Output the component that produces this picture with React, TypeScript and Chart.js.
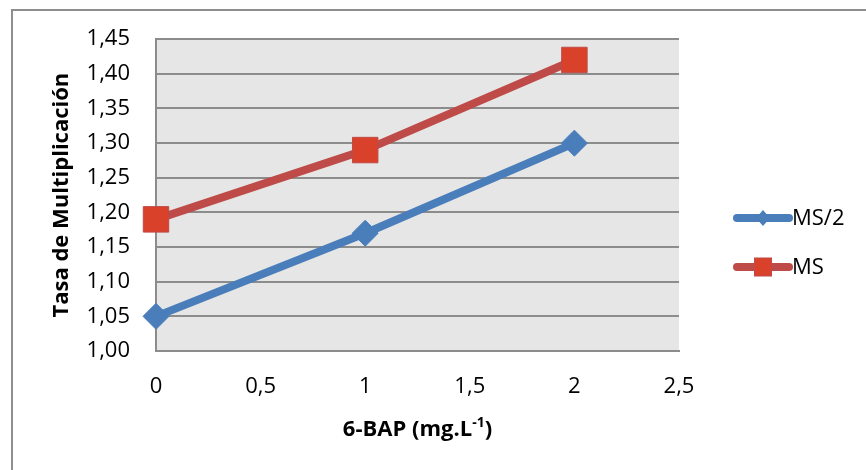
import React, { useEffect, useRef } from "react";
import { Chart, registerables } from "chart.js";

Chart.register(...registerables);

const xValues = [0, 1, 2];
const seriesMS2 = [1.05, 1.17, 1.3];
const seriesMS = [1.19, 1.29, 1.42];
const seriesLabels = ["MS/2", "MS"];
const yTitle = "Tasa de Multiplicación";
const xTitleMain = "6-BAP (mg.L";
const xTitleSup = "-1";
const xTitleEnd = ")";

const FONT = "'Open Sans', 'Liberation Sans', sans-serif";
const BLUE = "#4a7ebb";
const RED_LINE = "#be4b48";
const RED_FILL = "#d9412b";
const GRID = "#8c8c8c";

const fmt = (v: number, digits: number) =>
  (digits === 0 ? String(Number(v.toFixed(1))) : v.toFixed(digits)).replace(".", ",");

export default function App() {
  const ref = useRef<HTMLCanvasElement>(null);

  useEffect(() => {
    if (!ref.current) return;

    const bgPlugin = {
      id: "bgPlugin",
      beforeDraw(chart: any) {
        const { ctx, chartArea } = chart;
        ctx.save();
        ctx.fillStyle = "#ffffff";
        ctx.fillRect(0, 0, chart.width, chart.height);
        // outer frame
        ctx.fillStyle = "#8e8e8e";
        ctx.fillRect(11, 9, chart.width, 2);
        ctx.fillRect(11, 9, 2, chart.height);
        ctx.fillStyle = "#e6e6e6";
        ctx.fillRect(chartArea.left, chartArea.top, chartArea.right - chartArea.left, chartArea.bottom - chartArea.top);
        ctx.restore();
      },
      afterDraw(chart: any) {
        const { ctx, chartArea } = chart;
        ctx.save();
        // x title with superscript
        const mainFont = `bold 22px ${FONT}`;
        const supFont = `bold 14px ${FONT}`;
        ctx.font = mainFont;
        const w1 = ctx.measureText(xTitleMain).width;
        const w3 = ctx.measureText(xTitleEnd).width;
        ctx.font = supFont;
        const w2 = ctx.measureText(xTitleSup).width;
        const total = w1 + w2 + w3;
        const cx = (chartArea.left + chartArea.right) / 2;
        let x = cx - total / 2;
        const y = 430;
        ctx.fillStyle = "#000";
        ctx.textBaseline = "middle";
        ctx.textAlign = "left";
        ctx.font = mainFont;
        ctx.fillText(xTitleMain, x, y);
        x += w1;
        ctx.font = supFont;
        ctx.fillText(xTitleSup, x, y - 7);
        x += w2;
        ctx.font = mainFont;
        ctx.fillText(xTitleEnd, x, y);

        // legend
        const ds = chart.data.datasets;
        const lx0 = chartArea.right + 58;
        const lx1 = chartArea.right + 110;
        const ys = [218, 267];
        ds.forEach((d: any, i: number) => {
          const yy = ys[i];
          ctx.strokeStyle = d.borderColor;
          ctx.lineWidth = 8;
          ctx.lineCap = "round";
          ctx.beginPath();
          ctx.moveTo(lx0, yy);
          ctx.lineTo(lx1, yy);
          ctx.stroke();
          const mx = (lx0 + lx1) / 2;
          ctx.fillStyle = d.pointBackgroundColor;
          ctx.strokeStyle = d.pointBorderColor;
          ctx.lineWidth = 1;
          if (d.pointStyle === "rectRot") {
            ctx.beginPath();
            ctx.moveTo(mx, yy - 8);
            ctx.lineTo(mx + 7, yy);
            ctx.lineTo(mx, yy + 8);
            ctx.lineTo(mx - 7, yy);
            ctx.closePath();
            ctx.fill();
          } else {
            ctx.fillRect(mx - 8.5, yy - 9, 17, 18);
            ctx.strokeRect(mx - 8.5, yy - 9, 17, 18);
          }
          ctx.fillStyle = "#000";
          ctx.font = `22px ${FONT}`;
          ctx.textBaseline = "middle";
          ctx.fillText(d.label, lx1 + 3, yy + 1);
        });
        ctx.restore();
      },
    };

    const chart = new Chart(ref.current, {
      type: "line",
      data: {
        datasets: [
          {
            label: seriesLabels[0],
            data: xValues.map((x, i) => ({ x, y: seriesMS2[i] })),
            borderColor: BLUE,
            backgroundColor: BLUE,
            borderWidth: 8,
            pointStyle: "rectRot",
            pointRadius: 13,
            pointBackgroundColor: BLUE,
            pointBorderColor: BLUE,
            pointBorderWidth: 1,
            clip: false as any,
          },
          {
            label: seriesLabels[1],
            data: xValues.map((x, i) => ({ x, y: seriesMS[i] })),
            borderColor: RED_LINE,
            backgroundColor: RED_FILL,
            borderWidth: 8,
            pointStyle: "rect",
            pointRadius: 18,
            pointBackgroundColor: RED_FILL,
            pointBorderColor: RED_LINE,
            pointBorderWidth: 1,
            clip: false as any,
          },
        ],
      },
      options: {
        animation: false,
        responsive: false,
        devicePixelRatio: 1,
        layout: { padding: { left: 0, top: 38, right: 187, bottom: 0 } },
        plugins: { legend: { display: false }, tooltip: { enabled: false } },
        scales: {
          x: {
            type: "linear",
            min: 0,
            max: 2.5,
            ticks: {
              stepSize: 0.5,
              padding: 23,
              color: "#000",
              font: { family: FONT, size: 22 },
              callback: (v: any) => fmt(Number(v), 0),
            },
            grid: { display: false, drawTicks: false },
            border: { display: true, color: GRID, width: 2 },
            afterFit: (s: any) => {
              s.height = 119;
            },
          },
          y: {
            type: "linear",
            min: 1,
            max: 1.45,
            ticks: {
              stepSize: 0.05,
              padding: 26,
              color: "#000",
              font: { family: FONT, size: 22 },
              callback: (v: any) => fmt(Number(v), 2),
            },
            grid: { color: GRID, lineWidth: 2, drawTicks: false },
            border: { display: true, color: GRID, width: 2 },
            title: {
              display: true,
              text: yTitle,
              color: "#000",
              font: { family: FONT, size: 22, weight: "bold" },
              padding: { top: 49, bottom: 0 },
            },
            afterFit: (s: any) => {
              s.width = 156;
            },
          },
        },
      },
      plugins: [bgPlugin],
    } as any);

    return () => chart.destroy();
  }, []);

  return (
    <div style={{ position: "absolute", left: 0, top: 0, width: 866, height: 470 }}>
      <canvas ref={ref} width={866} height={470} style={{ width: 866, height: 470, display: "block" }} />
    </div>
  );
}
